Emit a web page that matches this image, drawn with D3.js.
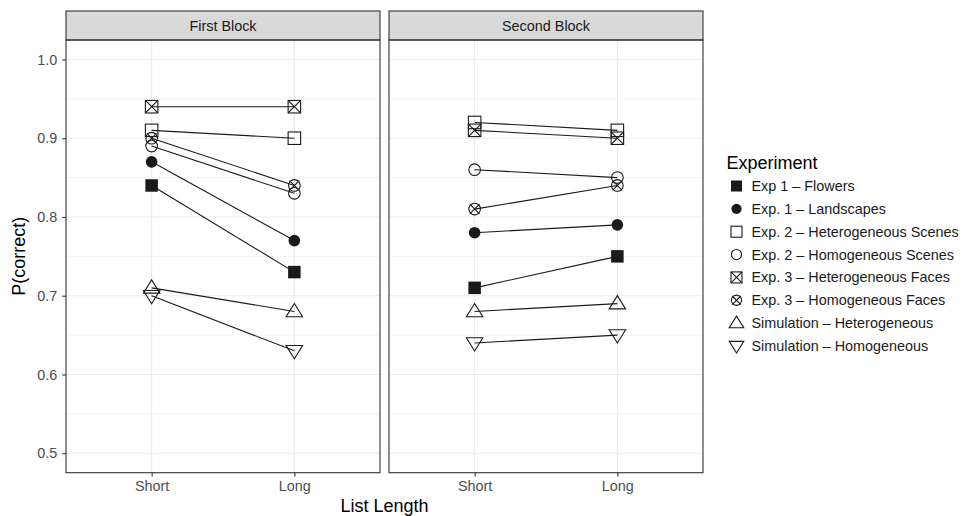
<!DOCTYPE html>
<html>
<head>
<meta charset="utf-8">
<script src="https://cdn.jsdelivr.net/npm/d3@7"></script>
<style>
  html, body { margin: 0; padding: 0; background: #fff; }
  svg { display: block; font-family: "Liberation Sans", Arial, Helvetica, sans-serif; }
</style>
</head>
<body>
<svg id="chart" width="963" height="516"></svg>
<script>
// ---------- data ----------
const blocks = ["First Block", "Second Block"];
const lengths = ["Short", "Long"];
const experiments = [
  "Exp 1 \u2013 Flowers",
  "Exp. 1 \u2013 Landscapes",
  "Exp. 2 \u2013 Heterogeneous Scenes",
  "Exp. 2 \u2013 Homogeneous Scenes",
  "Exp. 3 \u2013 Heterogeneous Faces",
  "Exp. 3 \u2013 Homogeneous Faces",
  "Simulation \u2013 Heterogeneous",
  "Simulation \u2013 Homogeneous"
];
const shapes = ["squareFilled", "circleFilled", "square", "circle", "squareCross", "circleCross", "triangleUp", "triangleDown"];
const firstShort  = [0.84, 0.87, 0.91, 0.89, 0.94, 0.90, 0.71, 0.70];
const firstLong   = [0.73, 0.77, 0.90, 0.83, 0.94, 0.84, 0.68, 0.63];
const secondShort = [0.71, 0.78, 0.92, 0.86, 0.91, 0.81, 0.68, 0.64];
const secondLong  = [0.75, 0.79, 0.91, 0.85, 0.90, 0.84, 0.69, 0.65];
const yTicks = [0.5, 0.6, 0.7, 0.8, 0.9, 1.0];
const yMinor = [0.55, 0.65, 0.75, 0.85, 0.95];
const yDomain = [0.4753, 1.0247];

const blockValues = [[firstShort, firstLong], [secondShort, secondLong]];

// ---------- layout ----------
const svg = d3.select("#chart");
const panelTop = 40, panelBottom = 472.7, stripTop = 11;
const panelLefts = [66, 389], panelW = 314;
const ink = "#1a1a1a";
const border = "#333333";
const grid = "#ebebeb";

const y = d3.scaleLinear().domain(yDomain).range([panelBottom, panelTop]);

function symbolPath(g, shape, cx, cy, s) {
  const h = s / 2;
  const sw = 1.1;
  if (shape === "squareFilled") {
    g.append("rect").attr("x", cx - h).attr("y", cy - h).attr("width", s).attr("height", s)
      .attr("fill", ink).attr("stroke", "none");
  } else if (shape === "circleFilled") {
    g.append("circle").attr("cx", cx).attr("cy", cy).attr("r", h * 0.93).attr("fill", ink);
  } else if (shape === "square" || shape === "squareCross") {
    g.append("rect").attr("x", cx - h).attr("y", cy - h).attr("width", s).attr("height", s)
      .attr("fill", "none").attr("stroke", ink).attr("stroke-width", sw);
    if (shape === "squareCross") {
      g.append("path").attr("d", `M${cx - h},${cy - h}L${cx + h},${cy + h}M${cx - h},${cy + h}L${cx + h},${cy - h}`)
        .attr("stroke", ink).attr("stroke-width", sw).attr("fill", "none");
    }
  } else if (shape === "circle" || shape === "circleCross") {
    const r = h * 0.93;
    g.append("circle").attr("cx", cx).attr("cy", cy).attr("r", r)
      .attr("fill", "none").attr("stroke", ink).attr("stroke-width", sw);
    if (shape === "circleCross") {
      const c = h * 0.78;
      g.append("path").attr("d", `M${cx - c},${cy - c}L${cx + c},${cy + c}M${cx - c},${cy + c}L${cx + c},${cy - c}`)
        .attr("stroke", ink).attr("stroke-width", sw).attr("fill", "none");
    }
  } else if (shape === "triangleUp" || shape === "triangleDown") {
    const tw = s * 1.32 / 2, th = s * 1.06;
    const dir = shape === "triangleUp" ? 1 : -1;
    const top = cy - dir * th * 0.6, base = cy + dir * th * 0.4;
    g.append("path").attr("d", `M${cx},${top}L${cx + tw},${base}L${cx - tw},${base}Z`)
      .attr("fill", "none").attr("stroke", ink).attr("stroke-width", sw);
  }
}

blocks.forEach((blk, bi) => {
  const left = panelLefts[bi];
  const x = d3.scalePoint().domain(lengths).range([left, left + panelW]).padding(0.6);
  const g = svg.append("g");

  // grid
  g.selectAll("line.minor").data(yMinor).enter().append("line")
    .attr("x1", left).attr("x2", left + panelW)
    .attr("y1", d => y(d)).attr("y2", d => y(d))
    .attr("stroke", grid).attr("stroke-width", 0.6);
  g.selectAll("line.major").data(yTicks).enter().append("line")
    .attr("x1", left).attr("x2", left + panelW)
    .attr("y1", d => y(d)).attr("y2", d => y(d))
    .attr("stroke", grid).attr("stroke-width", 1.1);
  g.selectAll("line.vmajor").data(lengths).enter().append("line")
    .attr("x1", d => x(d)).attr("x2", d => x(d))
    .attr("y1", panelTop).attr("y2", panelBottom)
    .attr("stroke", grid).attr("stroke-width", 1.1);

  // strip
  g.append("rect").attr("x", left).attr("y", stripTop).attr("width", panelW).attr("height", panelTop - stripTop)
    .attr("fill", "#d9d9d9").attr("stroke", border).attr("stroke-width", 1.1);
  g.append("text").attr("x", left + panelW / 2).attr("y", (stripTop + panelTop) / 2)
    .attr("text-anchor", "middle").attr("dominant-baseline", "central")
    .attr("font-size", 14.4).attr("fill", ink).text(blk);

  // lines & points
  const [sv, lv] = blockValues[bi];
  experiments.forEach((e, i) => {
    g.append("line")
      .attr("x1", x("Short")).attr("y1", y(sv[i]))
      .attr("x2", x("Long")).attr("y2", y(lv[i]))
      .attr("stroke", ink).attr("stroke-width", 1.1);
  });
  experiments.forEach((e, i) => {
    symbolPath(g, shapes[i], x("Short"), y(sv[i]), 12.5);
    symbolPath(g, shapes[i], x("Long"), y(lv[i]), 12.5);
  });

  // panel border
  g.append("rect").attr("x", left).attr("y", panelTop).attr("width", panelW).attr("height", panelBottom - panelTop)
    .attr("fill", "none").attr("stroke", border).attr("stroke-width", 1.1);

  // x axis
  const xa = g.append("g").attr("transform", `translate(0,${panelBottom})`)
    .call(d3.axisBottom(x).tickSize(3.7).tickPadding(4));
  xa.select(".domain").remove();
  xa.selectAll("line").attr("stroke", border).attr("stroke-width", 1.1);
  xa.selectAll("text").attr("font-size", 14.4).attr("fill", "#4d4d4d").attr("font-family", null)
    .attr("dy", "0.71em");

  if (bi === 0) {
    const ya = g.append("g").attr("transform", `translate(${left},0)`)
      .call(d3.axisLeft(y).tickValues(yTicks).tickFormat(d3.format(".1f")).tickSize(3.7).tickPadding(5));
    ya.select(".domain").remove();
    ya.selectAll("line").attr("stroke", border).attr("stroke-width", 1.1);
    ya.selectAll("text").attr("font-size", 14.4).attr("fill", "#4d4d4d").attr("font-family", null);
  }
});

// axis titles
svg.append("text").attr("x", (panelLefts[0] + panelLefts[1] + panelW) / 2).attr("y", 506)
  .attr("text-anchor", "middle").attr("dominant-baseline", "central")
  .attr("font-size", 18).attr("fill", "#000").text("List Length");
svg.append("text").attr("transform", `translate(19,${(panelTop + panelBottom) / 2}) rotate(-90)`)
  .attr("text-anchor", "middle").attr("dominant-baseline", "central")
  .attr("font-size", 18).attr("fill", "#000").text("P(correct)");

// legend
const lg = svg.append("g");
lg.append("text").attr("x", 726.5).attr("y", 163).attr("dominant-baseline", "central")
  .attr("font-size", 18).attr("fill", "#000").text("Experiment");
const legY = d3.scalePoint().domain(experiments).range([186, 346]);
experiments.forEach((e, i) => {
  symbolPath(lg, shapes[i], 736.5, legY(e), 11);
  lg.append("text").attr("x", 751.5).attr("y", legY(e)).attr("dominant-baseline", "central")
    .attr("font-size", 14.4).attr("fill", ink).text(e);
});
</script>
</body>
</html>
